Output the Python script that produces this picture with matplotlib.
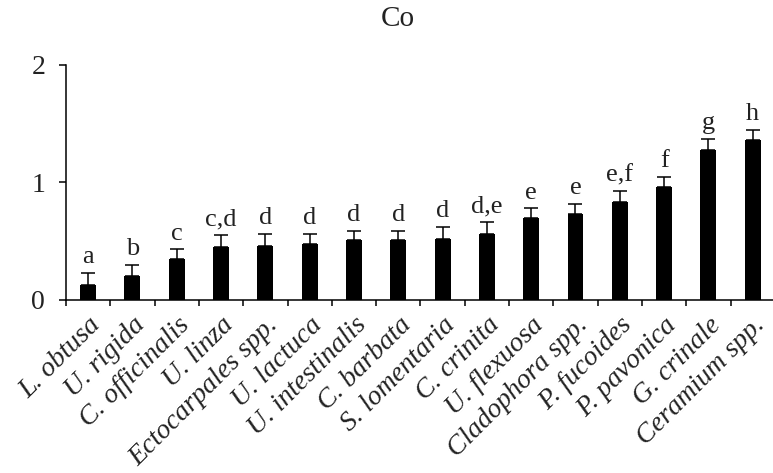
import numpy as np
import matplotlib
matplotlib.use("Agg")
import matplotlib.pyplot as plt

# species, mean Co content, upper error and significance letters
species = ["L. obtusa", "U. rigida", "C. officinalis", "U. linza",
           "Ectocarpales spp.", "U. lactuca", "U. intestinalis", "C. barbata",
           "S. lomentaria", "C. crinita", "U. flexuosa", "Cladophora spp.",
           "P. fucoides", "P. pavonica", "G. crinale", "Ceramium spp."]
values = [0.13, 0.20, 0.35, 0.45, 0.46, 0.48, 0.51, 0.51,
          0.52, 0.56, 0.70, 0.73, 0.83, 0.96, 1.28, 1.36]
errors = [0.10, 0.10, 0.08, 0.10, 0.10, 0.08, 0.08, 0.08,
          0.10, 0.10, 0.08, 0.09, 0.10, 0.09, 0.09, 0.09]
letters = ["a", "b", "c", "c,d", "d", "d", "d", "d",
           "d", "d,e", "e", "e", "e,f", "f", "g", "h"]

plt.rcParams["font.family"] = ["Liberation Serif", "DejaVu Serif"]
TXT = "#222222"

fig = plt.figure(figsize=(7.73, 4.73), dpi=100)
ax = fig.add_axes([0.0854, 0.3658, 0.917, 0.4968])

x = np.arange(len(species))
ax.bar(x, values, width=0.36, color="black", zorder=2)
ax.errorbar(x, values, yerr=[np.zeros(len(errors)), errors], fmt="none",
            ecolor="black", elinewidth=1.1, capsize=4.7, capthick=1.1, zorder=3)

for xi, v, e, lab in zip(x, values, errors, letters):
    ax.annotate(lab, (xi, v + e), xytext=(0, 7), textcoords="offset points",
                ha="center", va="baseline", fontsize=19, color=TXT)

ax.set_xlim(-0.5, 15.5)
ax.set_ylim(0, 2)
ax.set_yticks([0, 1, 2])
ax.tick_params(axis="y", direction="out", length=5, width=1.1, labelsize=20,
               pad=10, labelcolor=TXT)

ax.set_xticks(x)
ax.set_xticklabels(species, rotation=45, ha="right", va="top",
                   rotation_mode="anchor", fontstyle="italic", fontsize=20,
                   color=TXT)
ax.set_xticks(np.arange(-0.5, 16, 1), minor=True)
ax.tick_params(axis="x", which="major", length=0, pad=9)
ax.tick_params(axis="x", which="minor", direction="out", length=4, width=1.1)

for side in ["top", "right"]:
    ax.spines[side].set_visible(False)
for side in ["left", "bottom"]:
    ax.spines[side].set_linewidth(1.1)

fig.text(0.514, 0.96, "Co", ha="center", va="center", fontsize=21, color=TXT)

fig.savefig("out.png", dpi=100)
